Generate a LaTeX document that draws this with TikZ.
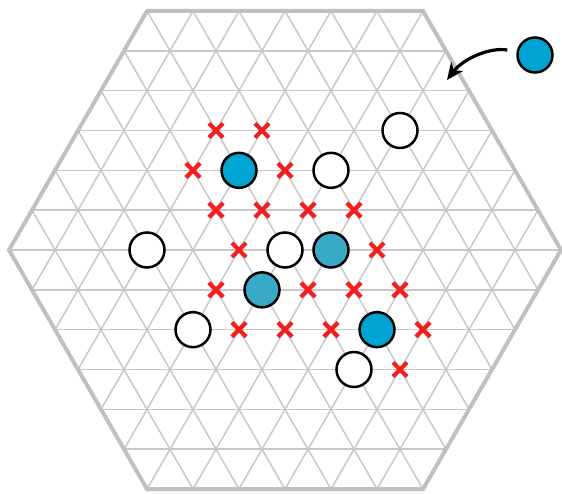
\documentclass[tikz,border=0pt]{standalone}
\usetikzlibrary{shapes.misc,arrows.meta,calc}
\definecolor{gridgray}{RGB}{200,200,200}
\definecolor{rimgray}{RGB}{192,192,192}
\definecolor{stoneblue}{RGB}{0,164,210}
\definecolor{paleblue}{RGB}{56,170,198}
\definecolor{markred}{RGB}{245,30,30}
\tikzset{
  gridline/.style={draw=gridgray, line width=1.5},
  rim/.style={draw=rimgray, line width=4, line join=miter},
  stone/.style={circle, draw=black, line width=2.5, minimum size=35, inner sep=0},
  whitestone/.style={stone, fill=white},
  bluestone/.style={stone, fill=stoneblue},
  palestone/.style={stone, fill=paleblue},
  banned/.style={cross out, draw=markred, line width=4.2, minimum size=10, inner sep=0},
  pointer/.style={draw=black, line width=3.2, -{Stealth[length=17,width=15]}}
}
\begin{document}
\begin{tikzpicture}[x=1pt,y=-1pt]
\useasboundingbox (0,0) rectangle (562,494);
% hexagon corners (cell side 46, row height 39.837)
\coordinate (W)  at (9,250);
\coordinate (NW) at (147,10.98);
\coordinate (NE) at (423,10.98);
\coordinate (E)  at (561,250);
\coordinate (SE) at (423,489.02);
\coordinate (SW) at (147,489.02);
% triangular grid clipped to the board
\begin{scope}
  \clip (W) -- (NW) -- (NE) -- (E) -- (SE) -- (SW) -- cycle;
  \foreach \k in {-6,...,6} {
    \pgfmathsetmacro{\yy}{250+\k*39.837}
    \draw[gridline] (0,\yy) -- (562,\yy);
  }
  \foreach \i in {-14,...,14} {
    \pgfmathsetmacro{\xa}{285+\i*46-161}
    \pgfmathsetmacro{\xb}{285+\i*46+161}
    \draw[gridline] (\xa,-28.86) -- (\xb,528.86);
    \draw[gridline] (\xb,-28.86) -- (\xa,528.86);
  }
\end{scope}
\draw[rim] (W) -- (NW) -- (NE) -- (E) -- (SE) -- (SW) -- cycle;
% forbidden points
\foreach \x/\y [count=\n] in {216/130.49, 262/130.49,
    193/170.33, 285/170.33,
    216/210.16, 262/210.16, 308/210.16, 354/210.16,
    239/250, 377/250,
    216/289.84, 308/289.84, 354/289.84, 400/289.84,
    239/329.67, 285/329.67, 331/329.67, 423/329.67,
    400/369.51}
  \node[banned] (x\n) at (\x,\y) {};
% stones
\node[whitestone] (w1) at (147,250) {};
\node[whitestone] (w2) at (285,250) {};
\node[whitestone] (w3) at (331,170.33) {};
\node[whitestone] (w4) at (400,130.49) {};
\node[whitestone] (w5) at (193,329.67) {};
\node[whitestone] (w6) at (354,369.51) {};
\node[bluestone] (b1) at (239,170.33) {};
\node[bluestone] (b2) at (377,329.67) {};
\node[palestone] (p1) at (331,250) {};
\node[palestone] (p2) at (262,289.84) {};
% stone entering the board
\node[bluestone] (b0) at (535,55) {};
\coordinate (drop) at (447,80);
\draw[pointer] ($(b0.west)+(-9,-5)$) .. controls (488,47) and (462,60) .. (drop);
\end{tikzpicture}
\end{document}
